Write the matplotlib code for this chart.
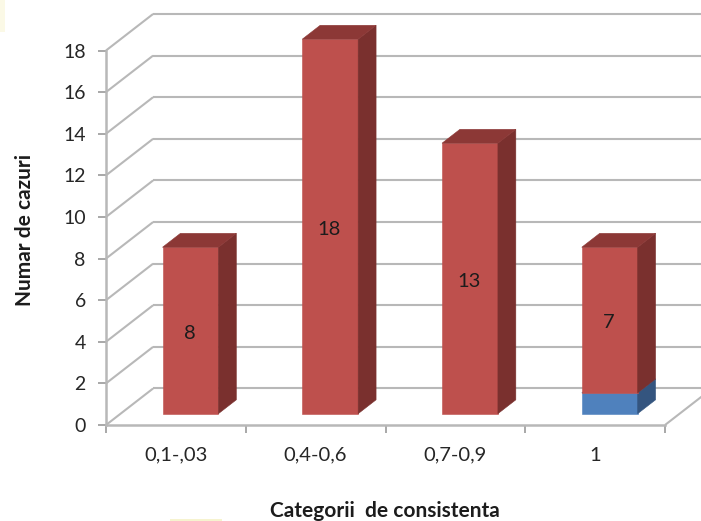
import matplotlib
matplotlib.use("Agg")
import matplotlib.pyplot as plt
import numpy as np
from matplotlib.patches import Rectangle

categories = ["0,1-,03", "0,4-0,6", "0,7-0,9", "1"]
blue_values = [0, 0, 0, 1]
red_values = [8, 18, 13, 7]
y_ticks = list(range(0, 20, 2))

W, H = 701, 521
plt.rcParams["font.family"] = ["Lato", "DejaVu Sans"]

fig = plt.figure(figsize=(W / 100, H / 100), dpi=100)
ax = fig.add_axes([106 / W, 1 - 425 / H, (665 - 106) / W, (425 - 50.5) / H])
ax.set_xlim(0, 4)
ax.set_ylim(0, 18)
ax.patch.set_visible(False)

# oblique depth: how far the back wall sits from the front plane, in data units
DX = 0.337
DY = 1.755
BAR_W = 0.4
D_FRONT = 0.31
D_BACK = 0.69

GRID = "#b8b8b8"


def pr(x, y, d):
    return x + d * DX, y + d * DY


def line3d(a, b, **kw):
    ax.plot([a[0], b[0]], [a[1], b[1]], clip_on=False, solid_capstyle="butt", **kw)


def box(i, bottom, height, front, side, top):
    x0 = i + 0.5 - BAR_W / 2
    x1 = i + 0.5 + BAR_W / 2
    y0 = bottom
    y1 = bottom + height
    f = [pr(x0, y0, D_FRONT), pr(x1, y0, D_FRONT), pr(x1, y1, D_FRONT), pr(x0, y1, D_FRONT)]
    s = [pr(x1, y0, D_FRONT), pr(x1, y0, D_BACK), pr(x1, y1, D_BACK), pr(x1, y1, D_FRONT)]
    t = [pr(x0, y1, D_FRONT), pr(x1, y1, D_FRONT), pr(x1, y1, D_BACK), pr(x0, y1, D_BACK)]
    for pts, col in ((f, front), (s, side), (t, top)):
        ax.fill(*zip(*pts), color=col, lw=0.4, zorder=3, clip_on=False)


# wall and floor gridlines
for v in y_ticks:
    line3d(pr(0, v, 0), pr(0, v, 1), color=GRID, lw=1.5, zorder=1)
    line3d(pr(0, v, 1), pr(4, v, 1), color=GRID, lw=1.5, zorder=1)
line3d(pr(4, 0, 0), pr(4, 0, 1), color=GRID, lw=1.5, zorder=1)

for i in range(len(categories)):
    if blue_values[i] > 0:
        box(i, 0, blue_values[i], "#4f81bd", "#34557f", "#3f6797")
    box(i, blue_values[i], red_values[i], "#be504d", "#7a302e", "#8c3836")
    cx, cy = pr(i + 0.5, blue_values[i] + red_values[i] / 2, D_FRONT)
    ax.annotate(str(red_values[i]), (cx, cy), xytext=(-0.5, -2), textcoords="offset points",
                ha="center", va="center", fontsize=14.5, color="#1c1c1c", zorder=4)

for name in ("top", "right"):
    ax.spines[name].set_visible(False)
for name in ("left", "bottom"):
    ax.spines[name].set_color(GRID)
    ax.spines[name].set_linewidth(1.8)

ax.set_yticks(y_ticks)
ax.set_xticks(range(5))
ax.set_xticklabels([])
ax.set_xticks(np.arange(4) + 0.5, labels=categories, minor=True)
ax.tick_params(axis="y", length=5.5, width=1.2, color="#9a9a9a", pad=9, labelsize=14, labelcolor="#262626")
ax.tick_params(axis="x", which="major", length=5.5, width=1.2, color="#9a9a9a")
ax.tick_params(axis="x", which="minor", length=0, pad=15.5, labelsize=14.5, labelcolor="#262626")

fig.text(25 / W, 1 - 230 / H, "Numar de cazuri", rotation=90, ha="center", va="center",
         fontsize=15, fontweight="bold", color="#1c1c1c")
fig.text(385 / W, 1 - 511 / H, "Categorii  de consistenta", ha="center", va="center",
         fontsize=15, fontweight="bold", color="#1c1c1c")

# pale cream scraps along the page edge
fig.patches.append(Rectangle((0, 1 - 32 / H), 5 / W, 32 / H, transform=fig.transFigure,
                             facecolor="#fbf9e6", edgecolor="none"))
fig.patches.append(Rectangle((170 / W, 0), 52 / W, 2 / H, transform=fig.transFigure,
                             facecolor="#f6f3cf", edgecolor="none"))

fig.savefig("out.png", dpi=100)
